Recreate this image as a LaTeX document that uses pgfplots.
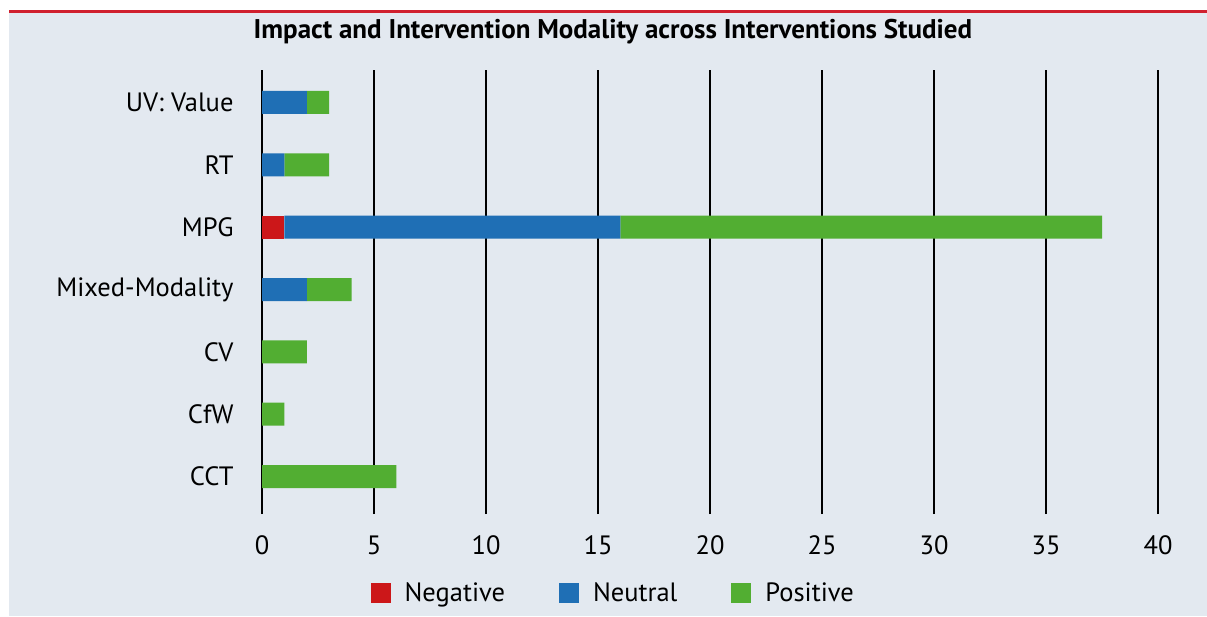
\documentclass[border=0pt]{standalone}
\usepackage{pgfplots}
\pgfplotsset{compat=1.18}
\usepackage{fontspec}
\setmainfont{PT Sans}
\definecolor{bg}{HTML}{E3E9F0}
\definecolor{topred}{HTML}{D0202E}
\definecolor{cneg}{HTML}{CC1719}
\definecolor{cneu}{HTML}{1F6FB5}
\definecolor{cpos}{HTML}{52AE32}
\begin{document}
\begin{tikzpicture}[x=1pt,y=1pt]
\useasboundingbox (0,0) rectangle (1207,616);
\fill[white] (0,0) rectangle (1207,616);
\fill[bg] (9,0) rectangle (1207,604);
\draw[topred, line width=2.5pt] (9,604.5) -- (1207,604.5);
\node[font=\fontsize{27}{32}\selectfont\bfseries] at (613,584) {Impact and Intervention Modality across Interventions Studied};
\begin{axis}[
  at={(262pt,102pt)}, anchor=south west,
  scale only axis, width=896pt, height=444pt,
  xbar stacked, bar width=23pt,
  xmin=0, xmax=40, ymin=-0.6, ymax=6.52,
  xtick={0,5,...,40}, ytick={0,...,6},
  yticklabels={CCT,CfW,CV,Mixed-Modality,MPG,RT,UV: Value},
  xmajorgrids, major grid style={black, line width=1.2pt},
  axis line style={draw=none}, tick style={draw=none},
  ticklabel style={font=\fontsize{26.5}{31}\selectfont},
  /pgf/number format/assume math mode=true,
  xticklabel style={yshift=-18pt},
  yticklabel style={xshift=-25pt},
  legend columns=3,
  legend style={at={(0.392,-0.178)}, anchor=center, draw=none, fill=none,
    font=\fontsize{26.5}{31}\selectfont,
    /tikz/every even column/.append style={column sep=52pt}},
  legend image code/.code={\fill[#1] (0pt,-10pt) rectangle (20pt,10pt); \path (32pt,0pt);},
]
\addplot[fill=cneg, draw=none] coordinates {(0,0) (0,1) (0,2) (0,3) (1,4) (0,5) (0,6)};
\addplot[fill=cneu, draw=none] coordinates {(0,0) (0,1) (0,2) (2,3) (15,4) (1,5) (2,6)};
\addplot[fill=cpos, draw=none] coordinates {(6,0) (1,1) (2,2) (2,3) (21.5,4) (2,5) (1,6)};
\legend{Negative,Neutral,Positive}
\end{axis}
\end{tikzpicture}
\end{document}
